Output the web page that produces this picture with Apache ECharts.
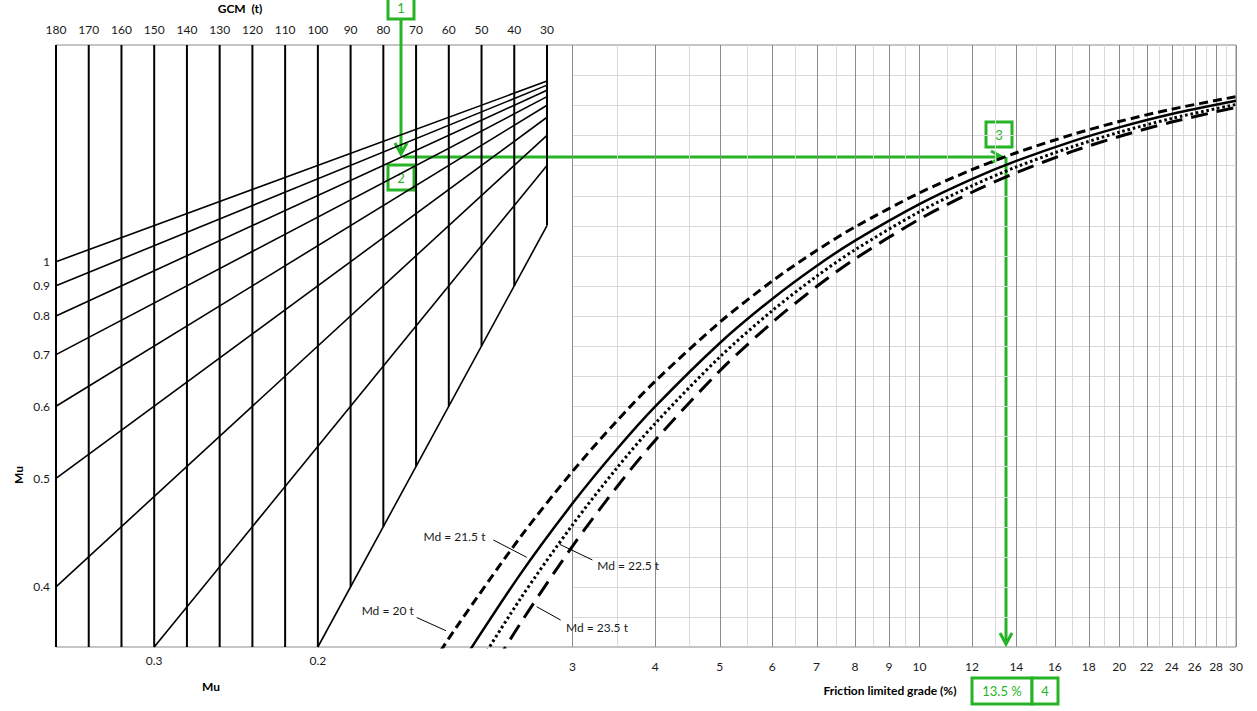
<!DOCTYPE html>
<html>
<head>
<meta charset="utf-8">
<script src="https://cdn.jsdelivr.net/npm/echarts@6/dist/echarts.min.js"></script>
<style>html,body{margin:0;padding:0;background:#fff}#c{width:1257px;height:711px}</style>
</head>
<body>
<div id="c"></div>
<script>
// ---------- data ----------
const gcmValues = [180, 170, 160, 150, 140, 130, 120, 110, 100, 90, 80, 70, 60, 50, 40, 30];
const muLines = [1, 0.9, 0.8, 0.7, 0.6, 0.5, 0.4, 0.3, 0.2];
const muLeftLabels = [1, 0.9, 0.8, 0.7, 0.6, 0.5, 0.4];
const muBottomLabels = [0.3, 0.2];
const gradeTicks = [3, 4, 5, 6, 7, 8, 9, 10, 12, 14, 16, 18, 20, 22, 24, 26, 28, 30];
const gradeMinor = [3.5, 4.5, 5.5, 6.5, 7.5, 8.5, 9.5, 11, 13, 15, 17, 19, 21, 23, 25, 27, 29];
const qGrid = [25, 50, 75, 100, 125, 150, 175, 200, 225, 250, 275, 300, 325, 350, 375, 400, 425, 450, 475];
const QMAX = 500;          // GCM / Mu at the bottom edge
const GCM_REF = 180;       // left edge of the GCM scale
const GCM_MIN = 30;

// friction limited grade (%) vs GCM/Mu, one list per drive mass Md
const md20   = [[1.8,523],[2,484.6],[2.5,409.3],[3,354.3],[3.5,312.3],[4,279.2],[5,230.4],[6,196.1],[7,170.7],[8,151.1],[10,122.9],[12,103.6],[14,89.5],[17,74.4],[20,63.6],[24,53.3],[30,42.9]];
const md21_5 = [[1.9,540.8],[2,521],[2.5,440.1],[3,380.9],[3.5,335.8],[4,300.2],[5,247.7],[6,210.9],[7,183.5],[8,162.5],[10,132.2],[12,111.4],[14,96.3],[17,80.0],[20,68.4],[24,57.3],[30,46.3]];
const md22_5 = [[2,545.2],[2.5,460.6],[3,398.7],[3.5,351.4],[4,314.2],[5,259.3],[6,220.7],[7,192.1],[8,170.1],[10,138.5],[12,117.0],[14,101.3],[17,84.5],[20,72.5],[24,61.0],[30,49.4]];
const md23_5 = [[2.2,530.5],[2.5,481.1],[3,416.4],[3.5,367.1],[4,328.2],[5,270.8],[6,230.5],[7,200.6],[8,177.6],[10,144.7],[12,122.3],[14,106.0],[17,88.4],[20,76.0],[24,64.0],[30,51.8]];

const mdLabelText = ['Md = 20 t', 'Md = 21.5 t', 'Md = 22.5 t', 'Md = 23.5 t'];
const mdLabelAnchor = [[1.73, 470], [1.79, 408.6], [3.27, 432.7], [2.935, 483.4]];
const mdLabelAlign = ['right', 'left', 'left', 'left'];
const mdLeaderFrom = [[1.748, 475.5], [2.28, 411.1], [2.87, 414.7], [2.65, 466.5]];
const mdLeaderTo = [[1.935, 486.5], [2.56, 425.5], [3.215, 427.7], [2.88, 477.6]];

// worked example
const readGCM = 75;
const readMu = 0.8;
const readGrade = 13.5;

// ---------- chart ----------
const FONT = 'Lato, "Open Sans", sans-serif';
const TXT = '#1a1a1a';
const GREEN = '#26b426';
const MAJOR = '#8c8c8c';
const MINOR = '#d9d9d9';
const MU_MIN = Math.min.apply(null, muLines);
const fmt = v => String(parseFloat(v.toFixed(3)));
const crisp = v => Math.round(v) + 0.5;

const chart = echarts.init(document.getElementById('c'), null, {renderer: 'svg', width: 1257, height: 711});

function vLine(color, width) {
  return function (params, api) {
    const g = api.value(0);
    const a = api.coord([g, 0]);
    const b = api.coord([g, QMAX]);
    return {type: 'line', shape: {x1: crisp(a[0]), y1: a[1], x2: crisp(b[0]), y2: b[1]}, style: {stroke: color, lineWidth: width}};
  };
}

const curveStyle = (type, width) => ({color: '#000', width: width, type: type, cap: 'butt'});

const option = {
  backgroundColor: '#fff',
  animation: false,
  textStyle: {fontFamily: FONT},
  grid: [
    {left: 56, top: 45, width: 491, height: 602},
    {left: 56, top: 45, width: 1180, height: 602, show: true, borderColor: MAJOR, borderWidth: 1, backgroundColor: 'transparent'}
  ],
  xAxis: [
    {gridIndex: 0, type: 'value', position: 'top', min: GCM_MIN, max: GCM_REF, interval: 10, inverse: true,
     axisLine: {show: false}, axisTick: {show: false}, splitLine: {show: false},
     axisLabel: {color: TXT, fontSize: 12, fontFamily: FONT, margin: 10}},
    {gridIndex: 0, type: 'value', position: 'bottom', min: GCM_MIN, max: GCM_REF, inverse: true,
     axisLine: {show: false}, axisTick: {show: false}, splitLine: {show: false},
     axisLabel: {color: TXT, fontSize: 12, fontFamily: FONT, margin: 7,
       customValues: muBottomLabels.map(m => QMAX * m), formatter: v => fmt(v / QMAX)}},
    {gridIndex: 1, type: 'log', logBase: 10, min: 0.5, max: 30, show: false}
  ],
  yAxis: [
    {gridIndex: 0, type: 'value', min: 0, max: QMAX, inverse: true,
     axisLine: {show: false}, axisTick: {show: false}, splitLine: {show: false},
     axisLabel: {color: TXT, fontSize: 12, fontFamily: FONT, margin: 6,
       customValues: muLeftLabels.map(m => GCM_REF / m), formatter: v => fmt(GCM_REF / v)}},
    {gridIndex: 1, type: 'value', min: 0, max: QMAX, inverse: true, show: false}
  ],
  series: [
    {name: 'minorV', type: 'custom', xAxisIndex: 2, yAxisIndex: 1, silent: true,
     data: gradeMinor.map(v => [v, 0]), renderItem: vLine(MINOR, 1)},
    {name: 'gridH', type: 'custom', xAxisIndex: 2, yAxisIndex: 1, silent: true,
     data: qGrid.map(q => [gradeTicks[0], q]),
     renderItem: function (params, api) {
       const q = api.value(1);
       const a = api.coord([gradeTicks[0], q]);
       const b = api.coord([gradeTicks[gradeTicks.length - 1], q]);
       return {type: 'line', shape: {x1: a[0], y1: crisp(a[1]), x2: b[0], y2: crisp(b[1])}, style: {stroke: MINOR, lineWidth: 1}};
     }},
    {name: 'majorV', type: 'custom', xAxisIndex: 2, yAxisIndex: 1, silent: true,
     data: gradeTicks.map(v => [v, 0]), renderItem: vLine(MAJOR, 1)},
    {name: 'gradeLabels', type: 'custom', xAxisIndex: 2, yAxisIndex: 1, silent: true,
     data: gradeTicks.map(v => [v, QMAX]),
     renderItem: function (params, api) {
       const v = api.value(0);
       const p = api.coord([v, QMAX]);
       return {type: 'text', x: p[0], y: p[1] + 19,
         style: {text: String(v), fill: TXT, font: '12px ' + FONT, textAlign: 'center', align: 'center', textVerticalAlign: 'middle', verticalAlign: 'middle'}};
     }},
    {name: 'gcmLines', type: 'custom', xAxisIndex: 0, yAxisIndex: 0, silent: true,
     data: gcmValues.map(g => [g, 0]),
     renderItem: function (params, api) {
       const g = api.value(0);
       const a = api.coord([g, 0]);
       const b = api.coord([g, Math.min(QMAX, g / MU_MIN)]);
       return {type: 'line', shape: {x1: a[0], y1: a[1], x2: b[0], y2: b[1]}, style: {stroke: '#000', lineWidth: 2}};
     }},
    {name: 'muLines', type: 'custom', xAxisIndex: 0, yAxisIndex: 0, silent: true,
     data: muLines.map(m => [m, 0]),
     renderItem: function (params, api) {
       const mu = api.value(0);
       const gs = Math.min(GCM_REF, QMAX * mu);
       const a = api.coord([gs, gs / mu]);
       const b = api.coord([GCM_MIN, GCM_MIN / mu]);
       return {type: 'line', shape: {x1: a[0], y1: a[1], x2: b[0], y2: b[1]}, style: {stroke: '#000', lineWidth: 1.6}};
     }},
    {name: 'Md = 20 t', type: 'line', xAxisIndex: 2, yAxisIndex: 1, data: md20, symbol: 'none', smooth: 0.3, lineStyle: curveStyle([9, 5], 3)},
    {name: 'Md = 21.5 t', type: 'line', xAxisIndex: 2, yAxisIndex: 1, data: md21_5, symbol: 'none', smooth: 0.3, lineStyle: curveStyle('solid', 2.5)},
    {name: 'Md = 22.5 t', type: 'line', xAxisIndex: 2, yAxisIndex: 1, data: md22_5, symbol: 'none', smooth: 0.3, lineStyle: curveStyle([2.6, 2.8], 3)},
    {name: 'Md = 23.5 t', type: 'line', xAxisIndex: 2, yAxisIndex: 1, data: md23_5, symbol: 'none', smooth: 0.3, lineStyle: curveStyle([17, 9], 3)},
    {name: 'mdNotes', type: 'custom', xAxisIndex: 2, yAxisIndex: 1, silent: true,
     data: mdLabelText.map((t, i) => [mdLabelAnchor[i][0], mdLabelAnchor[i][1], i]),
     renderItem: function (params, api) {
       const i = api.value(2);
       const t = api.coord(mdLabelAnchor[i]);
       const f = api.coord(mdLeaderFrom[i]);
       const e = api.coord(mdLeaderTo[i]);
       return {type: 'group', children: [
         {type: 'line', shape: {x1: f[0], y1: f[1], x2: e[0], y2: e[1]}, style: {stroke: '#000', lineWidth: 1}},
         {type: 'text', x: t[0], y: t[1], style: {text: mdLabelText[i], fill: TXT, font: '12px ' + FONT,
           textAlign: mdLabelAlign[i], align: mdLabelAlign[i], textVerticalAlign: 'middle', verticalAlign: 'middle'}}
       ]};
     }}
  ]
};
chart.setOption(option);

// ---------- titles and worked-example overlay ----------
const qRead = readGCM / readMu;
const pA = chart.convertToPixel({xAxisIndex: 0, yAxisIndex: 0}, [readGCM, qRead]);
const pC = chart.convertToPixel({xAxisIndex: 2, yAxisIndex: 1}, [readGrade, qRead]);
const pD = chart.convertToPixel({xAxisIndex: 2, yAxisIndex: 1}, [readGrade, QMAX]);
const gTop = chart.convertToPixel({xAxisIndex: 0, yAxisIndex: 0}, [readGCM, 0])[1];

const gLine = (x1, y1, x2, y2) => ({type: 'line', shape: {x1, y1, x2, y2}, style: {stroke: GREEN, lineWidth: 3}, silent: true});
const gPoly = pts => ({type: 'polyline', shape: {points: pts}, style: {stroke: GREEN, lineWidth: 3, fill: null}, silent: true});
const gBox = (x, y, w, h) => ({type: 'rect', shape: {x, y, width: w, height: h}, style: {stroke: GREEN, lineWidth: 3, fill: '#fff'}, silent: true});
const gText = (x, y, s) => ({type: 'text', x, y, silent: true,
  style: {text: s, fill: GREEN, font: '13px ' + FONT, textAlign: 'center', align: 'center', textVerticalAlign: 'middle', verticalAlign: 'middle'}});
const title = (x, y, s, rot) => ({type: 'text', x, y, rotation: rot || 0, silent: true,
  style: {text: s, fill: '#000', font: 'bold 12px ' + FONT, textAlign: 'center', align: 'center', textVerticalAlign: 'middle', verticalAlign: 'middle'}});

const ax = Math.round(pA[0]) + 1, ay = Math.round(pA[1]) - 1;
const cx = Math.round(pC[0]), dy = Math.round(pD[1]);

chart.setOption({
  graphic: [
    title(240, 8, 'GCM  (t)'),
    title(18, 475, 'Mu', Math.PI / 2),
    title(211, 686, 'Mu'),
    title(890, 690, 'Friction limited grade (%)'),
    // step 1 -> 2
    gLine(ax, gTop - 26, ax, ay - 3),
    gPoly([[ax - 6, ay - 14], [ax, ay - 3], [ax + 6, ay - 14]]),
    gBox(ax - 13, gTop - 49, 26, 23),
    gText(ax, gTop - 37, '1'),
    gBox(ax - 13, ay + 8, 26, 25),
    gText(ax, ay + 21, '2'),
    // step 2 -> 3
    gLine(ax + 2, ay, cx - 4, ay),
    gPoly([[cx - 15, ay - 6], [cx - 4, ay], [cx - 15, ay + 6]]),
    gBox(cx - 20, ay - 35, 26, 25),
    gText(cx - 7, ay - 22, '3'),
    // step 3 -> 4
    gLine(cx, ay, cx, dy - 3),
    gPoly([[cx - 6, dy - 14], [cx, dy - 3], [cx + 6, dy - 14]]),
    gBox(cx - 34, dy + 31, 60, 26),
    gText(cx - 4, dy + 44, readGrade + ' %'),
    gBox(cx + 26, dy + 31, 26, 26),
    gText(cx + 39, dy + 44, '4')
  ]
});
</script>
</body>
</html>
